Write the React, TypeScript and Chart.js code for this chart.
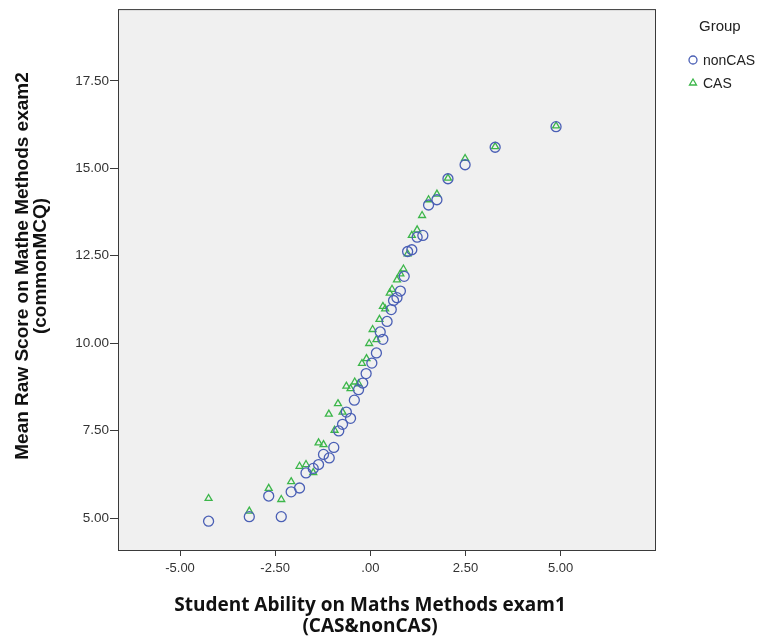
import React, { useEffect, useRef } from "react";
import { Chart, registerables } from "chart.js";

Chart.register(...registerables);

const nonCasX = [-4.25, -3.18, -2.67, -2.34, -2.08, -1.86, -1.69, -1.5, -1.36, -1.23, -1.08, -0.96, -0.83, -0.73, -0.63, -0.52, -0.42, -0.31, -0.2, -0.11, 0.04, 0.16, 0.26, 0.33, 0.44, 0.55, 0.61, 0.7, 0.79, 0.89, 0.98, 1.09, 1.23, 1.38, 1.53, 1.75, 2.04, 2.49, 3.28, 4.88];
const nonCasY = [4.91, 5.04, 5.63, 5.04, 5.75, 5.86, 6.29, 6.42, 6.53, 6.82, 6.72, 7.02, 7.49, 7.68, 8.03, 7.85, 8.37, 8.67, 8.86, 9.13, 9.43, 9.72, 10.32, 10.11, 10.62, 10.96, 11.22, 11.3, 11.49, 11.91, 12.62, 12.67, 13.03, 13.08, 13.95, 14.1, 14.7, 15.1, 15.6, 16.19];
const casX = [-4.25, -3.18, -2.67, -2.34, -2.08, -1.86, -1.69, -1.5, -1.36, -1.23, -1.09, -0.94, -0.85, -0.73, -0.63, -0.52, -0.41, -0.31, -0.22, -0.1, -0.03, 0.06, 0.16, 0.24, 0.33, 0.39, 0.51, 0.57, 0.7, 0.79, 0.87, 0.98, 1.09, 1.23, 1.36, 1.53, 1.75, 2.04, 2.49, 3.28, 4.88];
const casY = [5.56, 5.2, 5.85, 5.53, 6.04, 6.48, 6.53, 6.3, 7.15, 7.1, 7.97, 7.51, 8.27, 8.03, 8.77, 8.7, 8.89, 8.84, 9.42, 9.56, 9.99, 10.39, 10.1, 10.68, 11.05, 10.98, 11.43, 11.54, 11.81, 11.98, 12.12, 12.55, 13.08, 13.24, 13.65, 14.1, 14.26, 14.72, 15.28, 15.62, 16.21];

const xTicks = [-5, -2.5, 0, 2.5, 5];
const yTicks = [5, 7.5, 10, 12.5, 15, 17.5];

const seriesNames = ["nonCAS", "CAS"];
const legendTitle = "Group";
const xTitle = ["Student Ability on Maths Methods exam1", "(CAS&nonCAS)"];
const yTitle = ["Mean Raw Score on Mathe Methods exam2", "(commonMCQ)"];

const BLUE = "#4a5fb5";
const GREEN = "#3cb64a";

const fmt = (v: number) => {
  const s = Number(v).toFixed(2);
  if (s === "0.00") return ".00";
  return s;
};

export default function App() {
  const ref = useRef<HTMLCanvasElement | null>(null);
  useEffect(() => {
    if (!ref.current) return;
    const decor = {
      id: "decor",
      beforeDraw(chart: any) {
        const { ctx, chartArea: a } = chart;
        ctx.save();
        ctx.fillStyle = "#f0f0f0";
        ctx.fillRect(a.left, a.top, a.right - a.left, a.bottom - a.top);
        ctx.restore();
      },
      afterDraw(chart: any) {
        const { ctx, chartArea: a } = chart;
        ctx.save();
        ctx.strokeStyle = "#3a3a3a";
        ctx.lineWidth = 1;
        ctx.strokeRect(a.left + 0.5, a.top + 0.5, a.right - a.left, a.bottom - a.top);
        // axis titles
        ctx.fillStyle = "#111";
        ctx.textAlign = "center";
        ctx.textBaseline = "middle";
        ctx.font = "bold 19px 'Open Sans'";
        ctx.fillText(xTitle[0], 370, 606);
        ctx.fillText(xTitle[1], 370, 627);
        ctx.save();
        ctx.translate(23, 266);
        ctx.rotate(-Math.PI / 2);
        ctx.font = "bold 19px 'Liberation Sans'";
        ctx.fillText(yTitle[0], 0, 0);
        ctx.fillText(yTitle[1], 0, 18);
        ctx.restore();
        // legend
        ctx.font = "15px 'Liberation Sans'";
        ctx.fillStyle = "#222";
        ctx.textAlign = "left";
        ctx.fillText(legendTitle, 699, 27);
        ctx.font = "14px 'Liberation Sans'";
        ctx.fillText(seriesNames[0], 703, 61);
        ctx.fillText(seriesNames[1], 703, 84);
        ctx.lineWidth = 1.3;
        ctx.strokeStyle = BLUE;
        ctx.beginPath();
        ctx.arc(693, 60, 4, 0, Math.PI * 2);
        ctx.stroke();
        ctx.strokeStyle = GREEN;
        ctx.beginPath();
        ctx.moveTo(693, 79);
        ctx.lineTo(696.5, 85);
        ctx.lineTo(689.5, 85);
        ctx.closePath();
        ctx.stroke();
        ctx.restore();
      },
    };
    const chart = new Chart(ref.current, {
      type: "scatter",
      data: {
        datasets: [
          {
            label: seriesNames[0],
            data: nonCasX.map((x, i) => ({ x, y: nonCasY[i] })),
            pointStyle: "circle",
            pointRadius: 5,
            borderColor: BLUE,
            backgroundColor: "rgba(0,0,0,0)",
            borderWidth: 1.3,
          },
          {
            label: seriesNames[1],
            data: casX.map((x, i) => ({ x, y: casY[i] })),
            pointStyle: "triangle",
            pointRadius: 4,
            borderColor: GREEN,
            backgroundColor: "rgba(0,0,0,0)",
            borderWidth: 1.3,
          },
        ],
      },
      options: {
        animation: false,
        responsive: false,
        layout: { padding: { top: 8, right: 104, left: 0, bottom: 0 } },
        plugins: { legend: { display: false }, tooltip: { enabled: false } },
        scales: {
          x: {
            type: "linear",
            min: -6.63,
            max: 7.48,
            afterBuildTicks: (s: any) => {
              s.ticks = xTicks.map((v) => ({ value: v }));
            },
            afterFit: (s: any) => {
              s.height = 90;
            },
            grid: { drawOnChartArea: false, drawTicks: true, tickLength: 6, color: "#3a3a3a" },
            border: { display: false },
            ticks: {
              callback: (v: any) => fmt(v),
              font: { family: "'Liberation Sans'", size: 13 },
              color: "#333",
              padding: 5,
              maxRotation: 0,
            },
          },
          y: {
            type: "linear",
            min: 4.087,
            max: 19.55,
            afterBuildTicks: (s: any) => {
              s.ticks = yTicks.map((v) => ({ value: v }));
            },
            afterFit: (s: any) => {
              s.width = 118;
            },
            grid: { drawOnChartArea: false, drawTicks: true, tickLength: 8, color: "#3a3a3a" },
            border: { display: false },
            ticks: {
              callback: (v: any) => fmt(v),
              font: { family: "'Liberation Sans'", size: 13.5 },
              color: "#333",
              padding: 1,
            },
          },
        },
      },
      plugins: [decor],
    } as any);
    return () => chart.destroy();
  }, []);
  return (
    <div style={{ position: "fixed", left: 0, top: 0, width: 759, height: 640, background: "#fff" }}>
      <canvas ref={ref} width={759} height={640} style={{ width: 759, height: 640 }} />
    </div>
  );
}
